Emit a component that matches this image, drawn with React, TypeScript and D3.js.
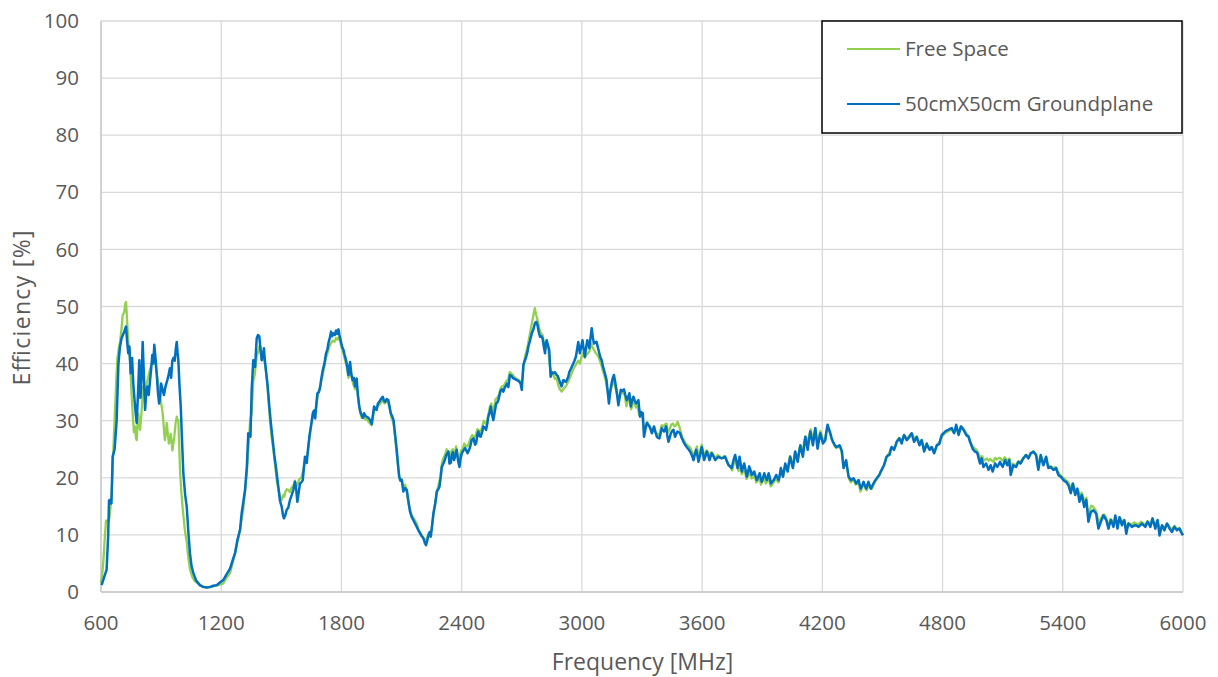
import React from "react";
import * as d3 from "d3";

// ---------- data ----------
const xTicks = [600, 1200, 1800, 2400, 3000, 3600, 4200, 4800, 5400, 6000];
const yTicks = [0, 10, 20, 30, 40, 50, 60, 70, 80, 90, 100];
const seriesNames = ["Free Space", "50cmX50cm Groundplane"];
const xLabel = "Frequency [MHz]";
const yLabel = "Efficiency [%]";

// 50cmX50cm Groundplane: [frequency MHz, efficiency %]
const groundFreq = [
  603, 615, 628, 636, 640, 648, 652, 658, 668, 678, 687, 695, 703, 715, 725, 730, 736, 742, 748, 755, 762, 770, 778, 785, 791, 797, 803, 808, 814, 820, 826, 832, 838, 845, 850, 856, 861, 866, 872, 878, 884, 890, 895, 900, 907, 914, 922, 931, 937, 944, 950, 956, 962, 968, 973, 978, 982, 986, 992, 998,
  1005, 1011, 1020, 1028, 1036, 1044, 1052, 1061, 1075, 1094, 1110, 1127, 1145, 1160, 1177, 1195, 1210, 1225, 1244, 1260, 1269, 1280, 1294, 1302, 1319, 1328, 1335, 1346, 1352, 1360, 1369, 1377, 1383, 1390, 1396, 1402, 1408, 1413, 1418, 1423, 1432, 1440, 1448, 1457, 1465, 1473, 1485, 1493, 1502, 1508, 1513, 1520, 1527, 1535, 1543, 1552, 1560, 1568, 1574, 1580, 1587, 1593, 1600, 1607, 1612, 1618, 1627, 1633, 1640, 1648, 1657, 1663, 1669, 1675, 1680, 1687, 1693, 1700, 1707, 1715, 1723, 1730, 1735, 1742, 1748, 1754, 1760, 1767, 1773, 1779, 1785, 1790, 1796,
  1803, 1810, 1816, 1823, 1829, 1835, 1843, 1850, 1856, 1862, 1868, 1876, 1882, 1889, 1895, 1901, 1907, 1913, 1920, 1926, 1935, 1943, 1951, 1957, 1963, 1970, 1976, 1982, 1989, 1997, 2006, 2012, 2018, 2026, 2034, 2040, 2046, 2053, 2060, 2068, 2076, 2082, 2088, 2095, 2101, 2109, 2118, 2126, 2134, 2142, 2150, 2159, 2167, 2176, 2184, 2192, 2200, 2209, 2217, 2222, 2228, 2234, 2240, 2246, 2252, 2259, 2268, 2276, 2283, 2289, 2295, 2301, 2309, 2317, 2323, 2329, 2334, 2339, 2346, 2351, 2356, 2362, 2369, 2375, 2382, 2389, 2395,
  2401, 2409, 2417, 2423, 2429, 2436, 2442, 2450, 2459, 2467, 2472, 2478, 2483, 2489, 2495, 2502, 2508, 2515, 2522, 2528, 2533, 2540, 2545, 2552, 2558, 2565, 2572, 2578, 2583, 2589, 2595, 2602, 2608, 2615, 2622, 2627, 2633, 2641, 2650, 2658, 2666, 2675, 2682, 2688, 2694, 2700, 2708, 2715, 2722, 2728, 2733, 2741, 2750, 2758, 2766, 2772, 2778, 2785, 2791, 2797, 2804, 2810, 2816, 2820, 2824, 2830, 2837, 2844, 2850, 2857, 2865, 2874, 2880, 2887, 2893, 2899, 2907, 2913, 2920, 2926, 2932, 2937, 2943, 2950, 2957, 2963, 2970, 2976, 2982, 2990, 2997,
  3003, 3009, 3015, 3021, 3027, 3032, 3037, 3043, 3049, 3055, 3060, 3067, 3073, 3080, 3087, 3093, 3099, 3105, 3110, 3117, 3123, 3129, 3135, 3141, 3148, 3154, 3160, 3165, 3170, 3176, 3182, 3188, 3194, 3202, 3210, 3217, 3224, 3230, 3237, 3244, 3250, 3257, 3264, 3271, 3277, 3282, 3290, 3297, 3304, 3310, 3317, 3324, 3330, 3337, 3343, 3349, 3355, 3360, 3367, 3374, 3380, 3387, 3393, 3399, 3405, 3410, 3415, 3420, 3426, 3432, 3438, 3444, 3450, 3457, 3461, 3465, 3471, 3477, 3483, 3490, 3498,
  3507, 3515, 3523, 3532, 3540, 3548, 3557, 3563, 3570, 3576, 3582, 3590, 3598, 3604, 3610, 3617, 3623, 3630, 3637, 3642, 3648, 3656, 3665, 3673, 3682, 3690, 3698, 3706, 3715, 3723, 3732, 3740, 3748, 3756, 3765, 3771, 3777, 3782, 3787, 3792, 3798, 3804, 3810, 3816, 3823, 3829, 3835, 3842, 3848, 3854, 3860, 3866, 3873, 3880, 3887, 3892, 3898, 3904, 3910, 3916, 3923, 3928, 3932, 3938, 3943, 3950, 3957, 3963, 3970, 3976, 3982, 3988, 3993, 3998,
  4003, 4009, 4015, 4021, 4027, 4033, 4040, 4046, 4053, 4059, 4065, 4071, 4077, 4083, 4090, 4096, 4103, 4109, 4115, 4121, 4127, 4133, 4140, 4146, 4153, 4159, 4165, 4170, 4176, 4183, 4190, 4196, 4203, 4209, 4215, 4220, 4226, 4233, 4240, 4246, 4253, 4261, 4270, 4278, 4286, 4292, 4298, 4302, 4306, 4312, 4319, 4325, 4331, 4337, 4343, 4350, 4356, 4362, 4369, 4375, 4381, 4386, 4392, 4399, 4406, 4412, 4419, 4424, 4430, 4436, 4442, 4448, 4455, 4463, 4472, 4478, 4485, 4490, 4496,
  4502, 4508, 4515, 4521, 4528, 4535, 4540, 4546, 4552, 4558, 4565, 4571, 4578, 4585, 4590, 4596, 4602, 4608, 4615, 4621, 4628, 4635, 4640, 4646, 4652, 4658, 4665, 4671, 4678, 4685, 4690, 4696, 4702, 4708, 4715, 4721, 4728, 4735, 4740, 4746, 4752, 4758, 4765, 4771, 4778, 4785, 4790, 4796, 4805, 4813, 4821, 4830, 4838, 4846, 4852, 4858, 4863, 4868, 4874, 4880, 4886, 4891, 4898, 4905, 4911, 4918, 4924, 4930, 4937, 4944, 4950, 4956, 4962, 4968, 4974, 4980, 4987, 4995,
  5000, 5004, 5010, 5017, 5023, 5029, 5035, 5040, 5045, 5050, 5056, 5062, 5068, 5073, 5080, 5087, 5093, 5100, 5106, 5112, 5118, 5123, 5128, 5133, 5140, 5147, 5153, 5160, 5167, 5172, 5178, 5184, 5190, 5197, 5203, 5210, 5217, 5222, 5228, 5234, 5240, 5247, 5253, 5260, 5267, 5272, 5278, 5284, 5290, 5296, 5303, 5310, 5317, 5322, 5328, 5334, 5340, 5347, 5353, 5360, 5367, 5372, 5378, 5384, 5390, 5397, 5403, 5410, 5417, 5422, 5428, 5434, 5440, 5445, 5450, 5456, 5462, 5468, 5473, 5478, 5483, 5489, 5495,
  5501, 5507, 5512, 5517, 5523, 5528, 5534, 5540, 5547, 5553, 5560, 5567, 5572, 5578, 5584, 5590, 5597, 5603, 5610, 5617, 5622, 5628, 5634, 5640, 5647, 5653, 5658, 5662, 5668, 5673, 5678, 5683, 5689, 5695, 5701, 5707, 5712, 5717, 5722, 5728, 5736, 5745, 5753, 5762, 5770, 5778, 5787, 5795, 5803, 5812, 5818, 5823, 5830, 5837, 5843, 5848, 5855, 5862, 5867, 5873, 5878, 5883, 5889, 5895, 5901, 5907, 5913, 5920, 5926, 5933, 5939, 5945, 5951, 5957, 5963, 5970, 5976, 5983, 5990, 6000,
];
const groundEff = [
  1.2, 2.5, 3.9, 10, 16, 16.2, 15.5, 23.7, 25, 30, 40, 43, 44.5, 45.5, 46.5, 44, 41.8, 43, 38.3, 41, 36, 32.5, 29.6, 35, 40.6, 34, 38, 43.8, 38, 31.9, 35, 36, 34.5, 37.1, 39, 41.5, 40, 43.3, 41, 38.3, 35, 33, 34, 36.5, 35.5, 34.5, 36, 37.1, 38, 39.2, 37.5, 40.5, 41, 40.5, 42.5, 43.8, 42, 40.6, 36, 32.5,
  26, 20.8, 17, 14.9, 10.5, 6.8, 4.5, 3.3, 2, 1.2, 0.9, 0.8, 0.9, 1.1, 1.2, 1.7, 2.1, 3, 4.1, 5.9, 6.8, 9, 10.9, 13.8, 17.9, 22, 27.8, 27.2, 35.4, 40.6, 39.4, 44.4, 45, 44.8, 42.5, 40.6, 41.5, 42.7, 40.5, 38.9, 36, 32.5, 29.5, 26.6, 24, 21.9, 18.4, 16, 14.9, 13.5, 12.9, 13.5, 14.4, 14.8, 16.1, 17, 17.9, 19.3, 18, 15.8, 17.5, 19, 19.2, 19.6, 21.5, 23.7, 22.6, 25, 27.2, 29, 31.3, 31.8, 30.4, 33, 34.8, 35, 35.7, 37.5, 38.9, 40, 41.8, 42.5, 43.6, 44.5, 45.6, 44.8, 45.3, 45, 45.8, 45.2, 46, 45, 44.1,
  43, 42.4, 41.5, 40.6, 39.5, 38, 40.3, 38, 37.1, 37.5, 36, 37.4, 34.5, 32.5, 31.5, 31, 30.5, 31.3, 30.8, 30.7, 30.5, 30.1, 29.4, 31, 32.5, 32, 31.9, 33, 33.3, 33.8, 34.2, 33.5, 33.3, 33.8, 33.6, 32.5, 31.3, 30.8, 30.1, 27.5, 24.9, 22.5, 20.2, 19.5, 19.6, 17.6, 18.2, 17.9, 16, 14.1, 13.2, 12.6, 12, 11.4, 10.8, 10.3, 9.8, 9.4, 8.5, 8.2, 9, 9.9, 10.5, 9.7, 11.5, 13.8, 15.5, 17.6, 18, 18.4, 20, 21.9, 22.5, 23.2, 24, 24.3, 24.6, 22.5, 22.6, 24, 24.5, 23.1, 24, 24.9, 23, 21.9, 23.5,
  24.3, 24.8, 25.2, 24.8, 24.3, 24.8, 25.4, 26.6, 26.9, 25.8, 26, 27.5, 28.1, 27.3, 27.2, 28, 29, 28.8, 28.4, 29.5, 30.7, 31.5, 32.5, 31, 30.1, 31.5, 33, 33.2, 33.6, 34.5, 35.3, 35.5, 35.1, 35.8, 36.2, 36.5, 35.9, 38, 37.8, 37.4, 37.3, 37.1, 37, 36.8, 36.5, 35.4, 39.8, 40.5, 41.2, 42, 43, 44, 45.3, 46, 47.1, 47.3, 46.8, 45.5, 44.7, 44.8, 44.4, 43, 41.8, 43.5, 44.1, 43.3, 42.4, 37.7, 38.5, 38.3, 38.5, 38, 37.8, 37.1, 36.5, 36, 37.1, 37, 36.8, 37.2, 37.7, 38.5, 38.9, 39.5, 40, 40.5, 41.2, 42.5, 43.8, 41.8, 43,
  44.1, 42.5, 41.2, 42.8, 44.1, 43.5, 42.7, 44.5, 46.2, 44.5, 43.5, 43.7, 43.8, 42.8, 41.8, 41, 40.6, 39.5, 38.9, 38, 37.1, 35, 33, 35, 36.5, 37.5, 38, 37, 36, 34.5, 32.7, 34, 35.4, 35.2, 35.5, 34.5, 33.6, 34, 34.8, 32.5, 33.5, 34.2, 33.5, 33, 33.3, 33.6, 30.7, 31.5, 31.3, 27.2, 28.5, 29.6, 29.3, 29, 28.5, 27.8, 28.3, 29, 28, 27.2, 27, 26.9, 27.8, 28.7, 28.3, 28.1, 28.5, 29, 27.5, 26.3, 27, 27.8, 28.2, 28.4, 27.8, 27.2, 27.7, 28.1, 28, 27.8, 27,
  26.3, 25.8, 25.4, 25, 24.6, 24, 23.1, 24, 24.9, 24, 22.8, 24, 25.4, 24.3, 23.1, 23.8, 24.6, 24, 23.1, 23.7, 24.3, 23.8, 23.1, 23.4, 23.7, 23.5, 23.4, 23.5, 23.7, 23, 22.2, 22, 21.7, 23, 24, 23, 21.7, 22.5, 23.7, 22.5, 21.1, 21.8, 22.5, 21.5, 20.2, 21, 22, 21.3, 20.5, 20.8, 21.1, 20.4, 19.6, 20.2, 20.8, 20, 19.3, 20, 20.8, 20.2, 19.6, 20.2, 20.8, 20, 19, 19.3, 19.6, 20, 20.5, 20, 19.6, 20.6, 21.7, 21,
  20.2, 21.3, 22.5, 21.8, 21.1, 22.4, 23.7, 22.7, 21.7, 23, 24.6, 23.7, 22.8, 24.2, 25.7, 24.7, 23.7, 25.4, 27.2, 26, 24.9, 26.5, 28.1, 27, 25.7, 27.2, 28.7, 27, 25.1, 26.5, 27.8, 27, 26, 26.3, 26.6, 28, 29.3, 28.5, 27.8, 27, 26.3, 25.8, 25.4, 25.5, 25.7, 25.2, 24.6, 23, 21.7, 22.4, 23.1, 21.6, 20.2, 19.9, 19.6, 19.8, 19.9, 19.5, 19, 19.3, 19.6, 18.8, 18.1, 18.7, 19.3, 18.7, 18.1, 18.7, 19.3, 18.7, 18.1, 18.5, 19, 19.5, 19.9, 20.2, 20.5, 21, 21.4,
  21.8, 22.2, 23, 23.7, 23.9, 24, 24.7, 25.4, 25.1, 24.9, 25.6, 26.3, 26.6, 26.9, 26.5, 26, 26.8, 27.5, 27, 26.6, 26.9, 27.2, 27.5, 27.8, 27, 26.3, 26.7, 27.2, 26.4, 25.7, 26.1, 26.6, 25.6, 24.6, 25.3, 26, 25.4, 24.9, 25.1, 25.4, 24.8, 24.3, 25, 25.7, 25.8, 26, 26.8, 27.5, 27.8, 28.1, 28.3, 28.4, 28.6, 28.7, 28.2, 27.8, 28.5, 29.3, 28.4, 27.5, 28.2, 29, 28.7, 28.4, 28, 27.5, 27.3, 27.2, 26.3, 25.7, 25.1, 24.8, 24.6, 24.5, 24.3, 23.4, 22.5, 23.4,
  22.6, 21.9, 22.2, 22.5, 22, 21.4, 21.8, 22.2, 21.6, 21.1, 21.8, 22.5, 22.2, 21.9, 22.3, 22.8, 22.3, 21.9, 22.5, 23.1, 22.6, 22.2, 22.6, 23.1, 20.5, 21.4, 22.2, 22, 21.9, 22.3, 22.8, 22.6, 22.5, 23, 23.4, 23.7, 24, 23.7, 23.4, 23.8, 24.3, 24.4, 24.6, 24.3, 24, 22.7, 21.4, 22.7, 24, 23.1, 22.2, 22.9, 23.7, 22.7, 21.7, 21.8, 21.9, 21.6, 21.4, 21.5, 21.7, 21.1, 20.5, 20.3, 20.2, 19.9, 19.6, 19.4, 19.3, 19, 18.7, 18, 17.3, 18.1, 19, 18, 17, 17.5, 18.1, 17, 15.8, 16.4, 17,
  16, 14.9, 15.5, 16.1, 14.2, 12.3, 13.2, 14, 14.2, 14.3, 14, 13.7, 12.4, 11.1, 11.7, 12.3, 12.9, 13.4, 13, 12.6, 11.9, 11.1, 11.9, 12.6, 12, 11.4, 12.4, 13.4, 12.3, 11.1, 12.1, 13.1, 12.4, 11.7, 12.2, 12.6, 11.4, 10.2, 11.1, 12, 11.7, 11.4, 11.6, 11.7, 11.6, 11.4, 11.7, 12, 11.7, 11.4, 11.9, 12.3, 11.9, 11.4, 12.2, 12.9, 12, 11.1, 11.9, 12.6, 11.3, 9.9, 10.8, 11.7, 11.3, 10.8, 11.4, 12, 11.6, 11.1, 10.8, 10.5, 11, 11.4, 11.1, 10.8, 11, 11.1, 10.5, 9.9,
];

// Free Space: [frequency MHz, efficiency %]
const freeFreq = [
  600, 606, 612, 618, 625, 637, 642, 648, 653, 658, 664, 670, 676, 682, 688, 695, 702, 708, 716, 721, 725, 728, 731, 738, 745, 752, 758, 764, 770, 774, 778, 782, 786, 790, 795, 799, 803, 807, 811, 816, 820, 828, 836, 845, 853, 861, 869, 877, 886, 894, 903, 907, 911, 915, 919, 924, 928, 934, 939, 944, 948, 952, 956, 961, 966, 972, 978, 982, 986, 990, 994,
  1001, 1008, 1018, 1028, 1036, 1044, 1055, 1066, 1077, 1095, 1120, 1145, 1170, 1195, 1210, 1227, 1244, 1260, 1277, 1294, 1310, 1320, 1328, 1335, 1344, 1352, 1360, 1367, 1377, 1384, 1390, 1396, 1402, 1410, 1418, 1427, 1436, 1444, 1452, 1460, 1468, 1477, 1485, 1493, 1502, 1510, 1515, 1520, 1527, 1535, 1543, 1550, 1560, 1568, 1575, 1582, 1590, 1600, 1610, 1618, 1627, 1635, 1643, 1650, 1657, 1665, 1672, 1680, 1690, 1700, 1707, 1715, 1723, 1732, 1740, 1748, 1756, 1765, 1773, 1780, 1788, 1796,
  1803, 1810, 1818, 1826, 1835, 1843, 1850, 1858, 1868, 1876, 1885, 1893, 1901, 1910, 1918, 1926, 1935, 1943, 1951, 1957, 1965, 1973, 1982, 1990, 1998, 2006, 2015, 2024, 2034, 2042, 2050, 2060, 2068, 2076, 2084, 2092, 2101, 2109, 2118, 2126, 2134, 2142, 2150, 2159, 2167, 2176, 2184, 2192, 2200, 2209, 2217, 2225, 2234, 2242, 2250, 2259, 2268, 2276, 2285, 2293, 2301, 2309, 2317, 2325, 2332, 2340, 2348, 2356, 2364, 2372, 2380, 2389, 2397,
  2405, 2413, 2421, 2429, 2437, 2445, 2453, 2461, 2470, 2478, 2487, 2495, 2503, 2510, 2518, 2526, 2534, 2541, 2548, 2555, 2563, 2570, 2578, 2585, 2593, 2600, 2608, 2616, 2624, 2632, 2640, 2650, 2660, 2670, 2680, 2690, 2698, 2704, 2710, 2718, 2726, 2734, 2742, 2750, 2758, 2765, 2772, 2780, 2788, 2796, 2804, 2811, 2818, 2825, 2832, 2840, 2848, 2858, 2866, 2874, 2882, 2890, 2899, 2907, 2915, 2923, 2931, 2940, 2948, 2957, 2965, 2973, 2982, 2990, 2998,
  3006, 3014, 3022, 3030, 3038, 3046, 3054, 3062, 3070, 3078, 3087, 3095, 3103, 3111, 3119, 3127, 3135, 3143, 3150, 3158, 3166, 3174, 3182, 3190, 3198, 3206, 3214, 3222, 3230, 3238, 3246, 3254, 3262, 3270, 3278, 3286, 3294, 3302, 3310, 3318, 3326, 3334, 3342, 3350, 3358, 3366, 3374, 3382, 3390, 3398, 3406, 3414, 3422, 3430, 3438, 3446, 3454, 3462, 3470, 3478, 3486, 3494,
  3502, 3510, 3518, 3526, 3534, 3542, 3550, 3558, 3566, 3574, 3582, 3590, 3598, 3606, 3614, 3622, 3630, 3638, 3646, 3654, 3662, 3670, 3678, 3686, 3694, 3702, 3710, 3718, 3726, 3734, 3742, 3750, 3758, 3766, 3774, 3782, 3790, 3798, 3806, 3814, 3822, 3830, 3838, 3846, 3854, 3862, 3870, 3878, 3886, 3894, 3902, 3910, 3918, 3926, 3934, 3942, 3950, 3958, 3966, 3974, 3982, 3990, 3998,
  4006, 4014, 4022, 4030, 4038, 4046, 4054, 4062, 4070, 4078, 4086, 4094, 4102, 4110, 4118, 4126, 4134, 4142, 4150, 4158, 4166, 4174, 4182, 4190, 4198, 4206, 4214, 4222, 4230, 4238, 4246, 4254, 4262, 4270, 4278, 4286, 4294, 4302, 4310, 4318, 4326, 4334, 4342, 4350, 4358, 4366, 4374, 4382, 4390, 4398, 4406, 4414, 4422, 4430, 4438, 4446, 4454, 4462, 4470, 4478, 4486, 4494,
  4502, 4510, 4518, 4526, 4534, 4542, 4550, 4558, 4566, 4574, 4582, 4590, 4598, 4606, 4614, 4622, 4630, 4638, 4646, 4654, 4662, 4670, 4678, 4686, 4694, 4702, 4710, 4718, 4726, 4734, 4742, 4750, 4758, 4766, 4774, 4782, 4790, 4798, 4806, 4814, 4822, 4830, 4838, 4846, 4854, 4862, 4870, 4878, 4886, 4894, 4902, 4910, 4918, 4926, 4934, 4942, 4950, 4958, 4966, 4974, 4982, 4990, 4998,
  5006, 5014, 5022, 5030, 5038, 5046, 5054, 5062, 5070, 5078, 5086, 5094, 5102, 5110, 5118, 5126, 5134, 5142, 5150, 5158, 5166, 5174, 5182, 5190, 5198, 5206, 5214, 5222, 5230, 5238, 5246, 5254, 5262, 5270, 5278, 5286, 5294, 5302, 5310, 5318, 5326, 5334, 5342, 5350, 5358, 5366, 5374, 5382, 5390, 5398, 5406, 5414, 5422, 5430, 5438, 5446, 5454, 5462, 5470, 5478, 5486, 5494,
  5502, 5510, 5518, 5526, 5534, 5542, 5550, 5558, 5566, 5574, 5582, 5590, 5598, 5606, 5614, 5622, 5630, 5638, 5646, 5654, 5662, 5670, 5678, 5686, 5694, 5702, 5710, 5718, 5726, 5734, 5742, 5750, 5758, 5766, 5774, 5782, 5790, 5798, 5806, 5814, 5822, 5830, 5838, 5846, 5854, 5862, 5870, 5878, 5886, 5894, 5902, 5910, 5918, 5926, 5934, 5942, 5950, 5958, 5966, 5974, 5982, 5990, 6000,
];
const freeEff = [
  1.5, 3, 5.5, 9, 12.5, 12.5, 13, 15, 17, 21, 27, 32, 37, 41, 42.5, 43.8, 46, 48.5, 49, 50.5, 50.8, 49, 47, 43, 40.3, 35, 31.3, 28, 29, 27, 26.6, 29, 31.3, 29.5, 28.4, 30, 31.9, 34, 36, 35, 34.5, 36.5, 37.7, 39, 40, 40.5, 40.6, 38.5, 36.5, 34, 32.5, 31.5, 30.1, 28, 26.6, 28, 29.6, 27.5, 26, 26.8, 27.7, 26.5, 24.8, 26, 27.2, 29.5, 30.7, 30, 30.1, 26, 21.5,
  17.5, 14.5, 11, 8.7, 6, 4, 2.7, 2, 1.7, 1.1, 0.8, 0.8, 1.1, 1.3, 1.5, 2.5, 3.3, 5.5, 8, 11, 14.5, 18, 21, 24.8, 30, 31.3, 37, 38, 41.2, 42, 43, 42.9, 40.6, 41.5, 40, 37.5, 33.5, 29.8, 27, 25, 22.5, 19.5, 18.1, 16.8, 16.1, 17, 16.7, 17.5, 18, 17.9, 17.5, 18.2, 18.6, 19.5, 18.5, 19, 19.8, 20, 21.5, 23, 23.5, 25, 28, 29.5, 30.5, 31.5, 32, 34, 35.5, 37, 38, 39.5, 41, 42, 43, 43.6, 44, 43.8, 44.5, 44.2, 44.7, 43.5,
  42.5, 41.8, 40.5, 39.5, 37.5, 39, 37.8, 36.5, 35.5, 36.5, 33.5, 31.5, 30.5, 30.8, 30.2, 30.3, 29.8, 29.5, 29.2, 30.5, 32, 32.2, 32.6, 32.8, 33.2, 33.6, 33, 33.4, 33.2, 32, 30.5, 29.5, 27, 24, 21.5, 19.5, 19.8, 18.5, 18.8, 17.5, 15.5, 14.5, 13.5, 13, 12.5, 12, 11, 10.5, 10, 9.5, 9, 9.2, 10.2, 10, 11, 13.5, 15.5, 17.5, 18.8, 20, 22.5, 23.5, 24, 25, 24.6, 23.5, 24.6, 25, 24, 25.5, 24, 23.5, 24.8,
  25, 26, 25.5, 25.5, 26.2, 27, 27.5, 27, 27.5, 28.5, 28.3, 28, 29, 30, 29.5, 29.8, 31.2, 32.5, 33, 31.5, 32.5, 33.8, 34, 34.5, 35.5, 36, 36, 36.5, 37, 37.2, 38.5, 38.2, 37.8, 37.4, 37.2, 37, 36.5, 37.5, 40, 41.5, 42.5, 44, 45.5, 47, 48.5, 49.7, 48.5, 47.5, 46, 45.3, 45, 43.5, 42.5, 43.5, 42.8, 39.5, 38.5, 38, 37.3, 37.5, 36.2, 35.5, 35.1, 35.5, 35.8, 36.2, 36.8, 37.5, 38.2, 39, 39.5, 40, 40.5, 40, 41.2,
  41.8, 41, 41.5, 41.8, 42.2, 43.5, 42.8, 42.3, 41.8, 41.5, 40.8, 40, 39, 38, 37, 35.5, 34, 35.3, 36.2, 37, 36, 34.8, 33.5, 34.3, 35, 34.8, 34.5, 32.5, 33.5, 33.8, 32, 33, 33.3, 32.3, 32.6, 31, 31, 30.5, 28, 28.8, 29.8, 29.2, 28.8, 28.2, 28.8, 28.2, 27.7, 27.5, 28, 29.2, 29, 29.3, 29.5, 28, 28.5, 29.3, 29.5, 29, 29.2, 29.8, 29, 28,
  27, 26.5, 26, 25.7, 25.5, 25.2, 24.5, 24, 24.5, 25.5, 24, 24.6, 25.8, 24.5, 24, 24.8, 24.5, 23.8, 24.5, 24.2, 23.5, 23.7, 24, 23.8, 23.5, 23.6, 23.8, 23.3, 22.6, 22.2, 21.8, 21.3, 22.5, 23.2, 22, 21.2, 22.5, 20.6, 21.2, 21, 19.8, 20.4, 21, 19.9, 20, 20.4, 19.2, 19.5, 20, 18.8, 19.5, 20, 19, 19.4, 19.8, 18.5, 18.8, 19.3, 19.7, 19.5, 19.2, 20.5, 20.6,
  20.3, 22, 21.5, 22.3, 23.8, 22.8, 22.5, 24.5, 24, 23.5, 25.2, 25.5, 24.5, 26.5, 27.2, 25.5, 27.5, 28.5, 26.5, 27.8, 28.7, 26.5, 27, 28.2, 27.2, 26.5, 27, 28.5, 28.7, 27.8, 26.8, 26.2, 25.5, 25.2, 25.5, 25.5, 24.8, 23.2, 22, 22.8, 21.2, 19.8, 19.2, 19.5, 19.6, 18.8, 19, 19.2, 17.6, 18.3, 18.8, 18.2, 17.8, 18.8, 18.3, 18, 18.7, 19.2, 19.8, 20.3, 20.7, 21.2,
  21.8, 22.5, 23.5, 24, 24.3, 25.2, 25.3, 25.2, 25.8, 26.5, 27, 26.8, 26.5, 27.4, 27.2, 26.9, 27.2, 27.5, 27.8, 27.2, 26.7, 27.2, 26.6, 26, 26.6, 25.8, 25, 25.8, 25.5, 25.2, 25.4, 25, 24.6, 25.2, 25.8, 26.2, 26.6, 27.2, 27.6, 27.9, 28, 28.2, 28.3, 28.5, 28, 28.3, 28.8, 27.8, 28.5, 29, 28.7, 28.2, 27.8, 27.5, 26.8, 26, 25.5, 25.2, 25, 24.6, 24, 23.5, 23.8,
  23, 23.2, 23.4, 23, 23.3, 23, 22.8, 23.5, 23.2, 23.4, 23.5, 23.2, 23, 23.6, 23.3, 23, 23.4, 21.5, 22.5, 22.3, 22.2, 22.7, 22.9, 22.8, 23.3, 23.6, 24, 23.8, 23.7, 24.2, 24.5, 24.6, 24.3, 23.5, 22, 23.5, 23.6, 22.6, 23.3, 23.5, 22.3, 22, 22, 21.7, 21.8, 21.8, 21.2, 20.7, 20.4, 20.1, 19.9, 19.6, 19.4, 19, 18, 18.8, 18.8, 17.6, 18, 17.6, 16.8, 17.4,
  16.5, 15.8, 16.5, 13.5, 14.2, 15.1, 15, 14.6, 14.2, 13, 12.2, 12.8, 13.4, 13.6, 13.2, 12.4, 11.8, 12.8, 12.5, 12, 13.2, 12, 12.4, 13, 12.3, 12.5, 12.2, 11, 12, 12, 11.8, 12, 12.2, 12, 11.8, 12, 12.3, 12.1, 11.9, 11.8, 12.4, 12.2, 11.8, 12.8, 12.2, 11.5, 12.4, 11.8, 10.5, 11.5, 11.5, 11, 11.8, 11.8, 11.3, 11, 11.2, 11.6, 11.2, 11, 11.2, 10.8, 10,
];

const seriesColors = ["#92D050", "#0070C0"];

// ---------- layout ----------
const W = 1218;
const H = 677;
const plot = { left: 101, right: 1183, top: 21, bottom: 592 };
const font = "'Open Sans', 'Segoe UI', sans-serif";
const textColor = "#595959";
const gridColor = "#D9D9D9";
const tickFont = 20.5;
const titleFont = 23;

export default function App() {
  const x = d3.scaleLinear().domain([600, 6000]).range([plot.left, plot.right]);
  const y = d3.scaleLinear().domain([0, 100]).range([plot.bottom, plot.top]);

  const line = d3
    .line<[number, number]>()
    .x((d) => x(d[0]))
    .y((d) => y(d[1]));

  const freePts: [number, number][] = freeFreq.map((f, i) => [f, freeEff[i]]);
  const groundPts: [number, number][] = groundFreq.map((f, i) => [f, groundEff[i]]);

  const legendX = 822;
  const legendY = 21;
  const legendW = 360;
  const legendH = 112;
  const legendRows = [49, 104];

  return (
    <svg
      width={W}
      height={H}
      viewBox={`0 0 ${W} ${H}`}
      style={{ position: "absolute", left: 0, top: 0, background: "#fff" }}
      fontFamily={font}
    >
      <rect x={0} y={0} width={W} height={H} fill="#fff" />
      {/* gridlines */}
      {yTicks.map((t) => (
        <line key={"gy" + t} x1={plot.left} x2={plot.right} y1={y(t)} y2={y(t)} stroke={gridColor} strokeWidth={1.3} />
      ))}
      {xTicks.map((t) => (
        <line key={"gx" + t} x1={x(t)} x2={x(t)} y1={plot.top} y2={plot.bottom} stroke={gridColor} strokeWidth={1.3} />
      ))}
      {/* axis lines */}
      <line x1={plot.left} x2={plot.right} y1={plot.bottom} y2={plot.bottom} stroke="#C8C8C8" strokeWidth={1.3} />
      <line x1={plot.left} x2={plot.left} y1={plot.top} y2={plot.bottom} stroke="#C8C8C8" strokeWidth={1.3} />

      {/* series */}
      <path d={line(freePts) || ""} fill="none" stroke={seriesColors[0]} strokeWidth={2.3} strokeLinejoin="round" />
      <path d={line(groundPts) || ""} fill="none" stroke={seriesColors[1]} strokeWidth={2.5} strokeLinejoin="round" />

      {/* tick labels */}
      {yTicks.map((t) => (
        <text key={"ty" + t} x={79} y={y(t)} dy="0.35em" textAnchor="end" fontSize={tickFont} fill={textColor}>
          {t}
        </text>
      ))}
      {xTicks.map((t) => (
        <text key={"tx" + t} x={x(t)} y={623} dy="0.35em" textAnchor="middle" fontSize={tickFont} fill={textColor}>
          {t}
        </text>
      ))}

      {/* axis titles */}
      <text x={642.5} y={662} dy="0.35em" textAnchor="middle" fontSize={titleFont} fill={textColor}>
        {xLabel}
      </text>
      <text
        transform={`translate(22, 308) rotate(-90)`}
        dy="0.35em"
        textAnchor="middle"
        fontSize={titleFont}
        fill={textColor}
        textLength={155}
        lengthAdjust="spacing"
      >
        {yLabel}
      </text>

      {/* legend */}
      <rect x={legendX} y={legendY} width={legendW} height={legendH} fill="#fff" stroke="#000" strokeWidth={1.5} />
      {seriesNames.map((name, i) => (
        <g key={name}>
          <line x1={847} x2={900} y1={legendRows[i]} y2={legendRows[i]} stroke={seriesColors[i]} strokeWidth={2.2} />
          <text x={905} y={legendRows[i]} dy="0.35em" fontSize={tickFont} fill={textColor}>
            {name}
          </text>
        </g>
      ))}
    </svg>
  );
}
